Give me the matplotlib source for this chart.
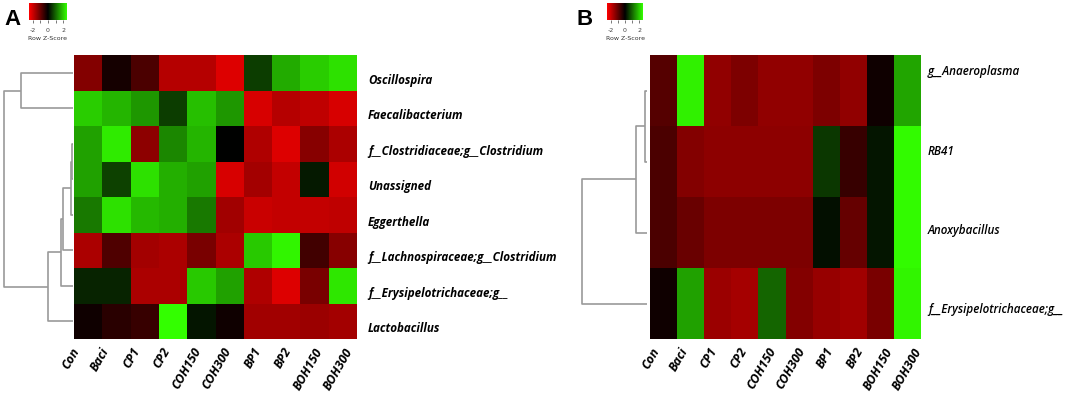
import numpy as np
import matplotlib
matplotlib.use("Agg")
import matplotlib.pyplot as plt
from matplotlib.colors import LinearSegmentedColormap

# ---------------- data ----------------
columns = ["Con", "Baci", "CP1", "CP2", "COH150", "COH300", "BP1", "BP2", "BOH150", "BOH300"]

rows_A = ["Oscillospira", "Faecalibacterium", "f__Clostridiaceae;g__Clostridium",
          "Unassigned", "Eggerthella", "f__Lachnospiraceae;g__Clostridium",
          "f__Erysipelotrichaceae;g__", "Lactobacillus"]
z_A = [
    [-1.27, -0.20, -0.74, -1.76, -1.76, -2.16, 0.60, 1.67, 2.00, 2.20],
    [2.00, 1.76, 1.47, 0.60, 1.86, 1.47, -2.10, -1.76, -1.86, -2.10],
    [1.57, 2.30, -1.37, 1.32, 1.76, 0.00, -1.70, -2.16, -1.32, -1.67],
    [1.57, 0.64, 2.20, 1.70, 1.57, -2.10, -1.60, -1.90, 0.25, -2.05],
    [1.18, 2.20, 1.80, 1.70, 1.18, -1.57, -1.96, -1.90, -1.90, -1.86],
    [-1.67, -0.78, -1.60, -1.67, -1.18, -1.67, 1.96, 2.40, -0.64, -1.32],
    [0.34, 0.34, -1.67, -1.67, 1.96, 1.57, -1.70, -2.16, -1.18, 2.25],
    [-0.15, -0.40, -0.54, 2.50, 0.20, -0.15, -1.57, -1.57, -1.52, -1.60],
]
# merges: (child_a, child_b, height)  leaves 0..7, new nodes 8..
merges_A = [(2, 3, 1), (8, 4, 2), (9, 5, 10), (10, 6, 12), (11, 7, 25), (0, 1, 52), (13, 12, 69)]

rows_B = ["g__Anaeroplasma", "RB41", "Anoxybacillus", "f__Erysipelotrichaceae;g__"]
z_B = [
    [-0.83, 2.35, -1.42, -1.23, -1.42, -1.42, -1.23, -1.42, -0.15, 1.62],
    [-0.74, -1.27, -1.37, -1.37, -1.37, -1.37, 0.54, -0.54, 0.20, 2.45],
    [-0.74, -1.03, -1.23, -1.23, -1.23, -1.23, 0.15, -0.98, 0.20, 2.45],
    [-0.15, 1.57, -1.52, -1.62, 0.98, -1.27, -1.47, -1.57, -1.18, 2.40],
]
merges_B = [(0, 1, 2), (4, 2, 11), (5, 3, 65)]

key_ticks = [-2, -1, 0, 1, 2]
key_labels = ["-2", "", "0", "", "2"]

# ---------------- style ----------------
W, H = 1084, 401
cmap = LinearSegmentedColormap.from_list("rg", [(1, 0, 0), (0, 0, 0), (0.2, 1, 0)])
VMIN, VMAX = -2.5, 2.5
DCOL = "#9a9a9a"
LABEL_FONT = ["Open Sans", "DejaVu Sans"]

fig = plt.figure(figsize=(W / 100, H / 100), dpi=100)


def px_axes(x0, y0, x1, y1):
    return fig.add_axes([x0 / W, 1 - y1 / H, (x1 - x0) / W, (y1 - y0) / H])


def draw_dendro(ax, merges, n, xmax):
    pos = {i: i + 0.5 for i in range(n)}
    hgt = {i: 0.0 for i in range(n)}
    for k, (a, b, h) in enumerate(merges):
        node = n + k
        ax.plot([hgt[a], h, h, hgt[b]], [pos[a], pos[a], pos[b], pos[b]],
                color=DCOL, lw=1.2, solid_capstyle="butt")
        pos[node] = (pos[a] + pos[b]) / 2
        hgt[node] = h
    ax.set_ylim(n, 0)
    ax.set_xlim(xmax, 0)
    ax.axis("off")


def draw_key(x0, y0, x1, y1):
    ax = px_axes(x0, y0, x1, y1)
    grad = np.linspace(VMIN, VMAX, 256).reshape(1, -1)
    ax.imshow(grad, cmap=cmap, vmin=VMIN, vmax=VMAX, aspect="auto",
              extent=[VMIN, VMAX, 0, 1])
    ax.set_yticks([])
    ax.set_xticks(key_ticks)
    ax.set_xticklabels(key_labels, fontsize=4.5)
    ax.tick_params(axis="x", length=2, width=0.5, pad=4, colors="#444444")
    for s in ax.spines.values():
        s.set_visible(False)
    ax.set_xlabel("Row Z-Score", fontsize=4.5, labelpad=2, color="#333333")


def draw_heat(x0, y0, x1, y1, z, rows, label_off, xlab_c0, weight, lpad, fs):
    ax = px_axes(x0, y0, x1, y1)
    z = np.array(z)
    nr, nc = z.shape
    ax.pcolormesh(np.arange(nc + 1), np.arange(nr + 1), z, cmap=cmap,
                  vmin=VMIN, vmax=VMAX, shading="flat")
    ax.set_xlim(0, nc)
    ax.set_ylim(nr, 0)
    for s in ax.spines.values():
        s.set_visible(False)
    ax.yaxis.tick_right()
    ax.set_yticks([i + 0.5 + o for i, o in zip(range(nr), label_off)])
    ax.set_yticklabels(rows, fontsize=fs, fontstyle="italic", fontweight=weight,
                       family=LABEL_FONT)
    ax.tick_params(axis="y", length=0, pad=lpad)
    ax.set_xticks([xlab_c0 + 1.075 * i for i in range(nc)])
    ax.set_xticklabels(columns, fontsize=9, fontstyle="italic", fontweight="bold",
                       family=LABEL_FONT, rotation=60, ha="right", va="center",
                       rotation_mode="anchor")
    ax.tick_params(axis="x", length=0, pad=7)
    return ax


# Panel A
draw_heat(74, 55, 357, 339, z_A, rows_A, [0.17] * 8, 0.07, "bold", 8, 8.4)
dA = px_axes(0, 55, 73, 339)
draw_dendro(dA, merges_A, len(rows_A), 73)
draw_key(29, 3, 67, 20)
fig.text(4 / W, 1 - 25 / H, "A", fontsize=16, fontweight="bold",
         family=["Liberation Sans", "DejaVu Sans"], ha="left", va="baseline")

# Panel B
draw_heat(650, 55, 921, 339, z_B, rows_B, [-0.29, -0.16, -0.05, 0.06], 0.23, "semibold", 5, 8.4)
dB = px_axes(575, 55, 647, 339)
draw_dendro(dB, merges_B, len(rows_B), 72)
draw_key(607, 3, 643, 20)
fig.text(577 / W, 1 - 25 / H, "B", fontsize=16, fontweight="bold",
         family=["Liberation Sans", "DejaVu Sans"], ha="left", va="baseline")

fig.savefig("out.png", dpi=100)
